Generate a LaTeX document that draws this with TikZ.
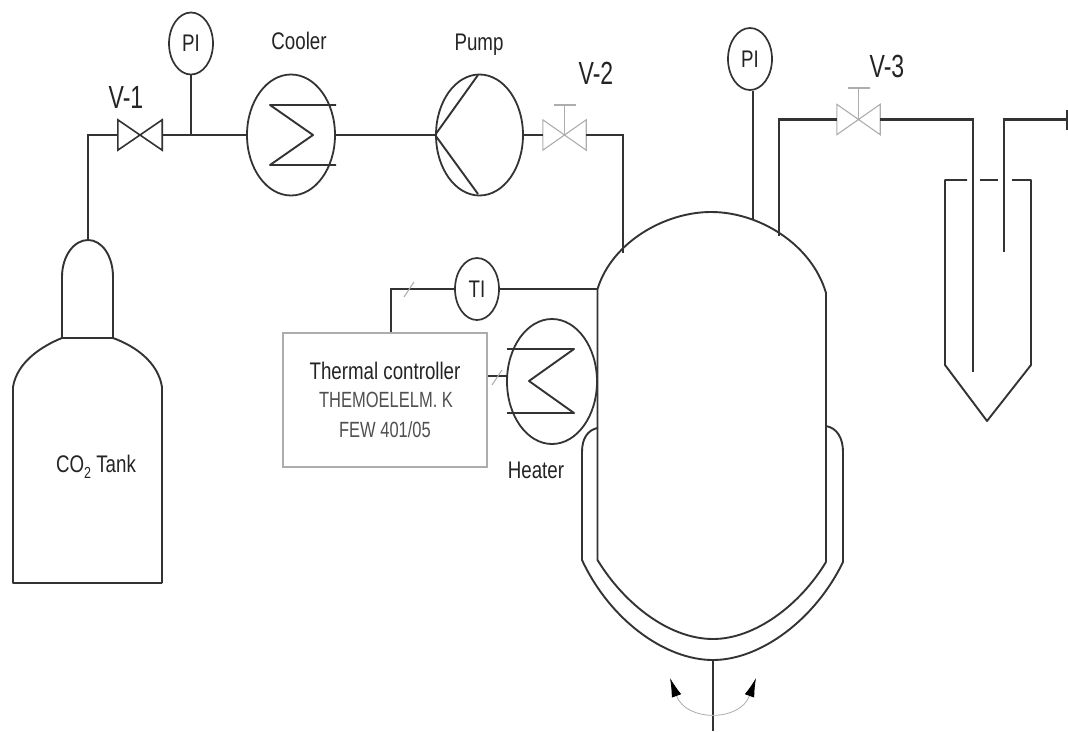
\documentclass[tikz,border=0pt]{standalone}
\usepackage{graphicx}
\usepackage{fontspec}
\setmainfont{Liberation Sans}
\usetikzlibrary{shapes.geometric,arrows.meta}
\newcommand{\sq}[1]{\scalebox{.78}[1]{#1}}
\definecolor{ink}{gray}{0.2}
\definecolor{txt}{gray}{0.14}
\definecolor{pale}{gray}{0.68}
\tikzset{
  pipe/.style={draw=ink,line width=2.2pt,line join=miter},
  outline/.style={draw=ink,line width=1.9pt,line join=round},
  pale line/.style={draw=pale,line width=1.1pt},
  dark valve/.style={draw=ink,line width=1.6pt},
  instrument/.style={ellipse,draw=ink,line width=1.7pt,inner sep=0pt,minimum width=44pt,minimum height=62pt,text=txt,font=\fontsize{24}{26}\selectfont},
  vessel/.style={ellipse,draw=ink,line width=1.8pt,inner sep=0pt,minimum width=88pt,minimum height=121pt},
  label/.style={text=txt,inner sep=0pt,font=\fontsize{24}{26}\selectfont},
  biglabel/.style={text=txt,inner sep=0pt,font=\fontsize{32}{34}\selectfont},
  sublabel/.style={text=txt!80,inner sep=0pt,font=\fontsize{22}{24}\selectfont},
  valvebox/.style={inner sep=0pt,minimum width=44pt,minimum height=30pt},
  tick/.style={draw=pale,line width=1pt},
}
\begin{document}
\begin{tikzpicture}[x=1pt,y=-1pt]
\useasboundingbox (0,0) rectangle (1068,731);
\fill[white] (0,0) rectangle (1068,731);

% instruments and vessels
\node[instrument] (pia) at (191,43.5) {\sq{PI}};
\node[instrument] (pib) at (750,59) {\sq{PI}};
\node[instrument] (ti) at (477,289) {\sq{TI}};
\node[vessel] (cooler) at (291,135) {};
\node[vessel,minimum width=87pt] (pump) at (479.5,135) {};
\node[vessel,minimum width=90pt,minimum height=125pt] (heater) at (552,381.5) {};

% valves
\node[valvebox] (va) at (140,135) {};
\node[valvebox,minimum width=43pt] (vb) at (564.5,135) {};
\node[valvebox,minimum width=43pt] (vc) at (858.5,119.5) {};
\draw[dark valve] (va.north west) -- (va.south east) -- (va.north east) -- (va.south west) -- cycle;
\draw[pale line] (vb.north west) -- (vb.south east) -- (vb.north east) -- (vb.south west) -- cycle;
\draw[pale line] (vc.north west) -- (vc.south east) -- (vc.north east) -- (vc.south west) -- cycle;
\coordinate (vbtop) at (564.5,105);
\coordinate (vctop) at (858.5,88);
\draw[pale line] (vb.center) -- (vbtop) (553.5,105) -- (575.5,105);
\draw[pale line] (vc.center) -- (vctop) (847.5,88) -- (869.5,88);

% labels
\node[biglabel] (lva) at (126,97) {\scalebox{.72}[1]{V-1}};
\node[biglabel] (lvb) at (596,73) {\scalebox{.72}[1]{V-2}};
\node[biglabel] (lvc) at (887,66) {\scalebox{.72}[1]{V-3}};
\node[label] (lcool) at (299,41) {\sq{Cooler}};
\node[label] (lpump) at (479,45) {\sq{Pump}};
\node[label] (lheat) at (536,470) {\sq{Heater}};
\node[label] (ltank) at (96,467) {\sq{CO\raisebox{-.45ex}{\fontsize{16}{16}\selectfont 2} Tank}};

% controller
\node[draw=pale,line width=1.1pt,minimum width=204pt,minimum height=134pt,inner sep=0pt] (ctrl) at (385,400) {};
\node[label] (lctrl) at (385,371) {\sq{Thermal controller}};
\node[sublabel] (lthermo) at (386,400) {\scalebox{.75}[1]{THEMOELELM. K}};
\node[sublabel] (lfew) at (385,430) {\scalebox{.75}[1]{FEW 401/05}};

% gas cylinder
\draw[outline] (62,338) -- (62,277) .. controls (62,256) and (74,240) .. (88,240)
  .. controls (102,240) and (113,256) .. (113,277) -- (113,338);
\draw[outline,line width=2.8pt] (62,338) -- (113,338);
\draw[outline] (162,583) -- (162,387) .. controls (158,362) and (135,346) .. (113,338);
\draw[outline] (62,338) .. controls (42,346) and (17,362) .. (13,387) -- (13,583) -- (162,583);
\coordinate (cyltop) at (88,240);

% reactor
\coordinate (domeL) at (597.5,289);
\coordinate (domeR) at (826,293);
\draw[outline] (597.5,560) -- (domeL) .. controls (612,242) and (665,212) .. (711,212)
  .. controls (760,212) and (812,245) .. (domeR) -- (826,562);
\draw[outline] (597.5,560) .. controls (625,605) and (670,639) .. (713,639)
  .. controls (755,639) and (800,605) .. (826,562);
\draw[outline] (597.5,428) .. controls (588,430) and (582,438) .. (582,452) -- (582,560)
  .. controls (610,620) and (665,660) .. (713,660)
  .. controls (760,660) and (815,620) .. (843,562) -- (843,452)
  .. controls (843,438) and (837,428) .. (826,426);

% stirrer
\coordinate (shaftTop) at (713,660);
\coordinate (shaftEnd) at (713,731);
\draw[draw=ink,line width=1.4pt] (shaftTop) -- (shaftEnd);
\coordinate (rotL) at (670,678);
\coordinate (rotR) at (756,678);
\draw[draw=pale,line width=.8pt,{Latex[black,length=19pt,width=10pt]}-{Latex[black,length=19pt,width=10pt]}]
  (rotL) .. controls (686,722) and (740,722) .. (rotR);

% collection vessel
\draw[outline] (967,180) -- (945,180) -- (945,365) -- (987,421) -- (1031,365) -- (1031,180) -- (1012,180);
\draw[outline] (980,180) -- (998,180);

% piping
\coordinate (ca) at (88,135);
\coordinate (jn) at (191,135);
\coordinate (cb) at (623,135);
\coordinate (rinA) at (623,253);
\coordinate (rinB) at (753,219);
\coordinate (rinC) at (779,236);
\coordinate (cc) at (779,119.5);
\coordinate (cd) at (973,119.5);
\coordinate (ce) at (973,372);
\coordinate (ca2) at (1004,252);
\coordinate (cf) at (1004,119.5);
\coordinate (cg) at (1068,119.5);
\coordinate (ch) at (391,289);
\coordinate (ci) at (597.5,289);
\coordinate (htin) at (507,376);

\draw[pipe] (cyltop) -- (ca) -- (va.west);
\draw[pipe] (va.east) -- (cooler.west);
\draw[pipe,line width=1.7pt] (pia.south) -- (jn);
\draw[pipe] (cooler.east) -- (pump.west);
\draw[pipe] (pump.east) -- (vb.west);
\draw[pipe] (vb.east) -- (cb) -- (rinA);
\draw[pipe] (pib.south -| rinB) -- (rinB);
\draw[pipe] (rinC) -- (cc) -- (vc.west);
\draw[pipe] (vc.east) -- (cd) -- (ce);
\draw[pipe] (ca2) -- (cf) -- (cg);
\draw[pipe] (1067,110) -- (1067,130);
\draw[pipe] (ctrl.north -| ch) -- (ch) -- (ti.west);
\draw[pipe] (ti.east) -- (ci);
\draw[pipe] (ctrl.east |- htin) -- (htin);

% cooler, pump and heater internals
\draw[outline] (336,105) -- (270,105) -- (313,135) -- (270,165) -- (336,165);
\draw[outline] (pump.west) -- (478,75) (pump.west) -- (478,194);
\draw[outline] (507,349) -- (574,349) -- (529,381) -- (574,413) -- (507,413);

% signal ticks
\draw[tick] (404,297) -- (414,282);
\draw[tick] (492,385) -- (502,370);
\end{tikzpicture}
\end{document}
